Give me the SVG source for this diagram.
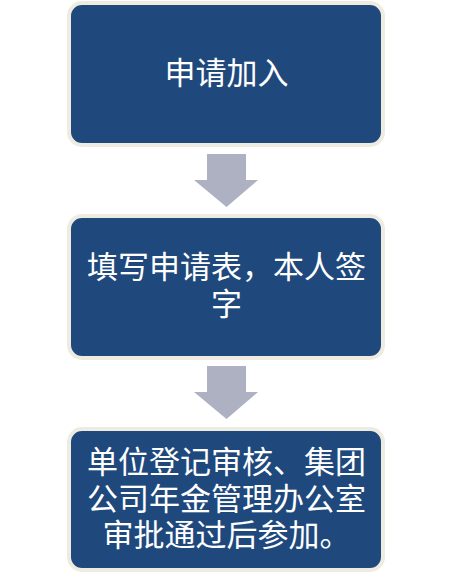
<svg xmlns="http://www.w3.org/2000/svg" width="451" height="573" viewBox="0 0 451 573">
<style>
.box{fill:#1F497D;stroke:#EEECE1;stroke-width:4}
.t{fill:#FFFFFF;font-family:"Liberation Sans","Noto Sans CJK SC",sans-serif;font-size:31px;text-anchor:middle}
.arr{fill:#ADB1C2}
</style>
<rect width="451" height="573" fill="#FFFFFF"/>
<g id="connectors">
<polygon class="arr" points="207,154 246,154 246,180 258,180 226.5,207 194,180 207,180"/>
<polygon class="arr" points="207,366 246,366 246,392 258,392 226.5,419 194,392 207,392"/>
</g>
<g id="node1">
<rect class="box" x="69" y="3" width="314" height="142" rx="13"/>
<text class="t" x="226.5" y="84">申请加入</text>
</g>
<g id="node2">
<rect class="box" x="69" y="216" width="314" height="142" rx="13"/>
<text class="t"><tspan x="226.5" y="278">填写申请表，本人签</tspan><tspan x="226.5" y="315">字</tspan></text>
</g>
<g id="node3">
<rect class="box" x="69" y="429" width="314" height="141" rx="13"/>
<text class="t"><tspan x="226.5" y="473">单位登记审核、集团</tspan><tspan x="226.5" y="510">公司年金管理办公室</tspan><tspan x="226.5" y="546">审批通过后参加。</tspan></text>
</g>
</svg>
